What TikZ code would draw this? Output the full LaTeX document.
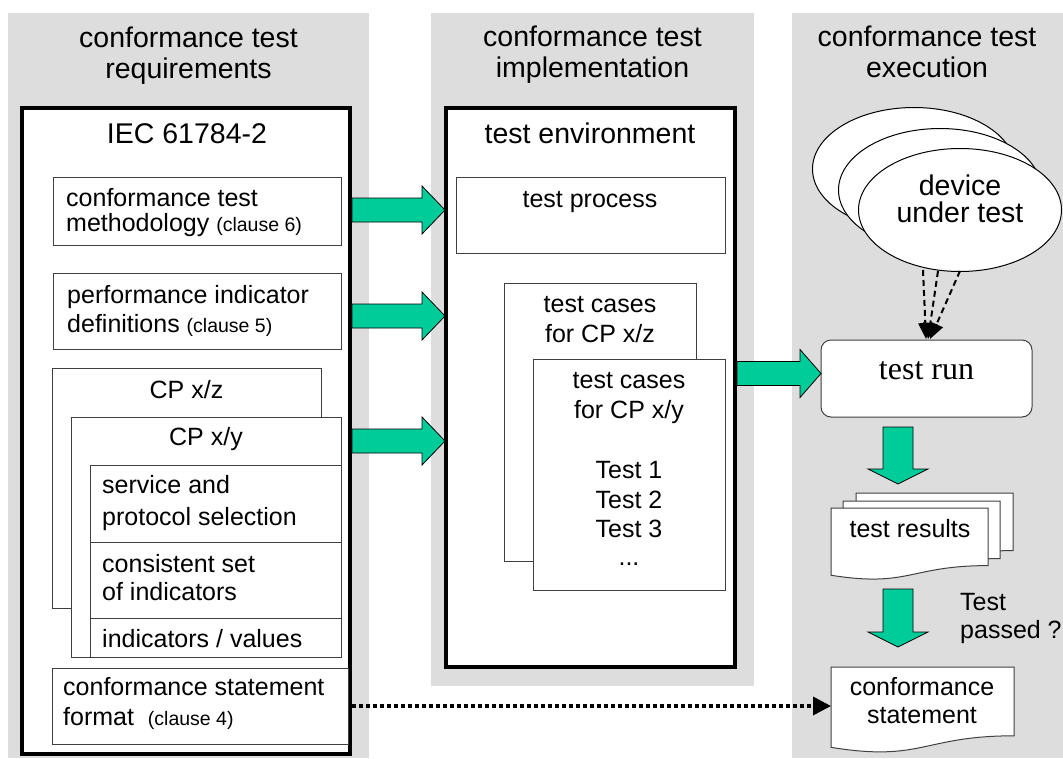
\documentclass[tikz,border=0pt]{standalone}
\usepackage{fontspec}
\setmainfont{Liberation Sans}
\newfontfamily\serifrm{Liberation Serif}
\usetikzlibrary{shapes.geometric,arrows.meta,calc,fit}
\definecolor{panel}{HTML}{DDDDDD}
\definecolor{tgreen}{HTML}{00CC99}
\definecolor{edge}{HTML}{404040}
\newcommand\clausetxt[1]{{\fontsize{19.5}{22}\selectfont #1}}
\newcommand\harrow[3]{%
  \draw[garrow] let \p1=(#1), \p2=(#2) in
    (\x1,\y1+12pt) -- (\x2-#3,\y1+12pt) -- (\x2-#3,\y1+24pt) -- (\x2,\y1)
    -- (\x2-#3,\y1-24pt) -- (\x2-#3,\y1-12pt) -- (\x1,\y1-12pt) -- cycle;}
\newcommand\varrow[2]{%
  \draw[garrow] let \p1=(#1), \p2=(#2) in
    (\x1-15pt,\y1) -- (\x1+15pt,\y1) -- (\x1+15pt,\y2+15pt) -- (\x1+30pt,\y2+15pt)
    -- (\x1,\y2) -- (\x1-30pt,\y2+15pt) -- (\x1-15pt,\y2+15pt) -- cycle;}
\newcommand\docshape[4]{%
  \draw[box] (#1,#2) -- (#3,#2) -- (#3,{#2+0.8*#4})
    .. controls ({(#1+#3)/2},{#2+0.8*#4}) and ({(#1+#3)/2},{#2+1.107*#4}) ..
    (#1,{#2+0.934*#4}) -- cycle;}
\tikzset{
  panelbox/.style={fill=panel, draw=none},
  bigbox/.style={draw=black, line width=3.5pt, fill=white, inner sep=0pt},
  box/.style={draw=edge, line width=1pt, fill=white, inner sep=0pt},
  head/.style={font=\fontsize{28.5}{31}\selectfont, anchor=base, inner sep=0pt},
  txt/.style={font=\fontsize{25}{29}\selectfont, anchor=base west, inner sep=0pt},
  ctxt/.style={font=\fontsize{25}{29}\selectfont, anchor=base, inner sep=0pt},
  garrow/.style={fill=tgreen, draw=black, line width=0.8pt, line join=miter},
  ell/.style={ellipse, draw=black, line width=1pt, fill=white, minimum width=203pt, minimum height=123pt, inner sep=0pt},
  dasharrow/.style={draw=black, line width=2pt, dash pattern=on 6pt off 4pt, -{Triangle[width=14pt,length=16pt]}},
  dotarrow/.style={draw=black, line width=3.5pt, dash pattern=on 4pt off 3pt, -{Triangle[width=18pt,length=18pt]}},
}
\begin{document}
\begin{tikzpicture}[x=1pt,y=-1pt]
\useasboundingbox (0,0) rectangle (1063,758);
% panels
\fill[panelbox] (8,13) rectangle (369,758);
\fill[panelbox] (431,13) rectangle (754,686);
\fill[panelbox] (792,13) rectangle (1063,758);
% headings
\node[head] (h1a) at (188.5,47) {conformance test};
\node[head] (h1b) at (188.5,78) {requirements};
\node[head] (h2a) at (592.5,46) {conformance test};
\node[head] (h2b) at (592.5,77) {implementation};
\node[head] (h3a) at (927,46) {conformance test};
\node[head] (h3b) at (927,77) {execution};
% left big box
\node[bigbox, fit={(22,108) (350,754)}] (iec) {};
\node[head] (iect) at (187,143) {IEC 61784-2};
\node[box, fit={(53,177) (341,245)}] (meth) {};
\node[txt] (m1) at (66,206) {conformance test};
\node[txt] (m2) at (66,231) {methodology \clausetxt{(clause 6)}};
\node[box, fit={(53,273) (341,349)}] (perf) {};
\node[txt] (p1) at (67,303) {performance indicator};
\node[txt] (p2) at (67,332) {definitions \clausetxt{(clause 5)}};
\node[box, fit={(52,368) (321,608)}] (cpzb) {};
\node[ctxt] (cpz) at (186.5,398) {CP x/z};
\node[box, fit={(71,417) (341,657)}] (cpyb) {};
\node[ctxt] (cpy) at (206,445) {CP x/y};
\node[box, fit={(90,465) (341,542)}] (sel) {};
\node[box, fit={(90,542) (341,618)}] (cons) {};
\node[box, fit={(90,618) (341,657)}] (vals) {};
\node[txt] (s1) at (102,493) {service and};
\node[txt] (s2) at (102,525) {protocol selection};
\node[txt] (c1) at (102,572) {consistent set};
\node[txt] (c2) at (102,600) {of indicators};
\node[txt] (iv) at (102,647) {indicators / values};
\node[box, fit={(52,668) (348,744)}] (csf) {};
\node[txt] (f1) at (63,695) {conformance statement};
\node[txt] (f2) at (63,725) {format\ \ \clausetxt{(clause 4)}};
% middle big box
\node[bigbox, fit={(446,108) (735,667)}] (env) {};
\node[head] (envt) at (590,143) {test environment};
\node[box, fit={(456,177) (725,253)}] (proc) {};
\node[ctxt] (tp) at (590,207) {test process};
\node[box, fit={(504,283) (696,561)}] (tczb) {};
\node[ctxt] (tz1) at (600,312) {test cases};
\node[ctxt] (tz2) at (600,342) {for CP x/z};
\node[box, fit={(533,359) (725,590)}] (tcyb) {};
\node[ctxt] (ty1) at (629,388) {test cases};
\node[ctxt] (ty2) at (629,418) {for CP x/y};
\node[ctxt] (t1) at (629,478) {Test 1};
\node[ctxt] (t2) at (629,508) {Test 2};
\node[ctxt] (t3) at (629,537) {Test 3};
\node[ctxt] (t4) at (629,565) {...};
% right column
\node[ell] (dut3) at (914,169) {};
\node[ell] (dut2) at (940,190) {};
\node[ell] (dut1) at (960,210) {};
\node[head] (d1) at (960,195) {device};
\node[head] (d2) at (960,222) {under test};
\node[box, rounded corners=10pt, fit={(821,340) (1032,417)}] (run) {};
\node[font=\serifrm\fontsize{32}{36}\selectfont, anchor=base, inner sep=0pt] (runt) at (926.5,379) {test run};
\docshape{856}{493}{1013}{72}
\docshape{843}{501}{1000}{72}
\docshape{831}{508}{988}{72}
\node[ctxt] (trt) at (910,537) {test results};
\docshape{831}{667}{1014}{86}
\node[ctxt] (cs1) at (922,695) {conformance};
\node[ctxt] (cs2) at (922,723) {statement};
\node[txt] (tq1) at (960,610) {Test};
\node[txt] (tq2) at (960,638) {passed ?};
% green arrows
\coordinate (a1s) at (352,210); \coordinate (a1e) at (445,210);
\coordinate (a2s) at (352,316); \coordinate (a2e) at (445,316);
\coordinate (a3s) at (352,441); \coordinate (a3e) at (445,441);
\coordinate (a4s) at (737,373.5); \coordinate (a4e) at (821,373.5);
\harrow{a1s}{a1e}{23pt}
\harrow{a2s}{a2e}{23pt}
\harrow{a3s}{a3e}{23pt}
\harrow{a4s}{a4e}{21pt}
\coordinate (a5s) at (898,427); \coordinate (a5e) at (898,484);
\coordinate (a6s) at (898,589); \coordinate (a6e) at (898,647);
\varrow{a5s}{a5e}
\varrow{a6s}{a6e}
% dashed arrows
\coordinate (ds1) at (923,270); \coordinate (ds2) at (938,271); \coordinate (ds3) at (960,271);
\coordinate (de1) at (926,339); \coordinate (de2) at (928,339); \coordinate (de3) at (930,339);
\draw[dasharrow] (ds1) -- (de1);
\draw[dasharrow] (ds2) -- (de2);
\draw[dasharrow] (ds3) -- (de3);
% dotted arrow
\coordinate (dts) at (352,706); \coordinate (dte) at (831,706);
\draw[dotarrow] (dts) -- (dte);
\end{tikzpicture}
\end{document}
